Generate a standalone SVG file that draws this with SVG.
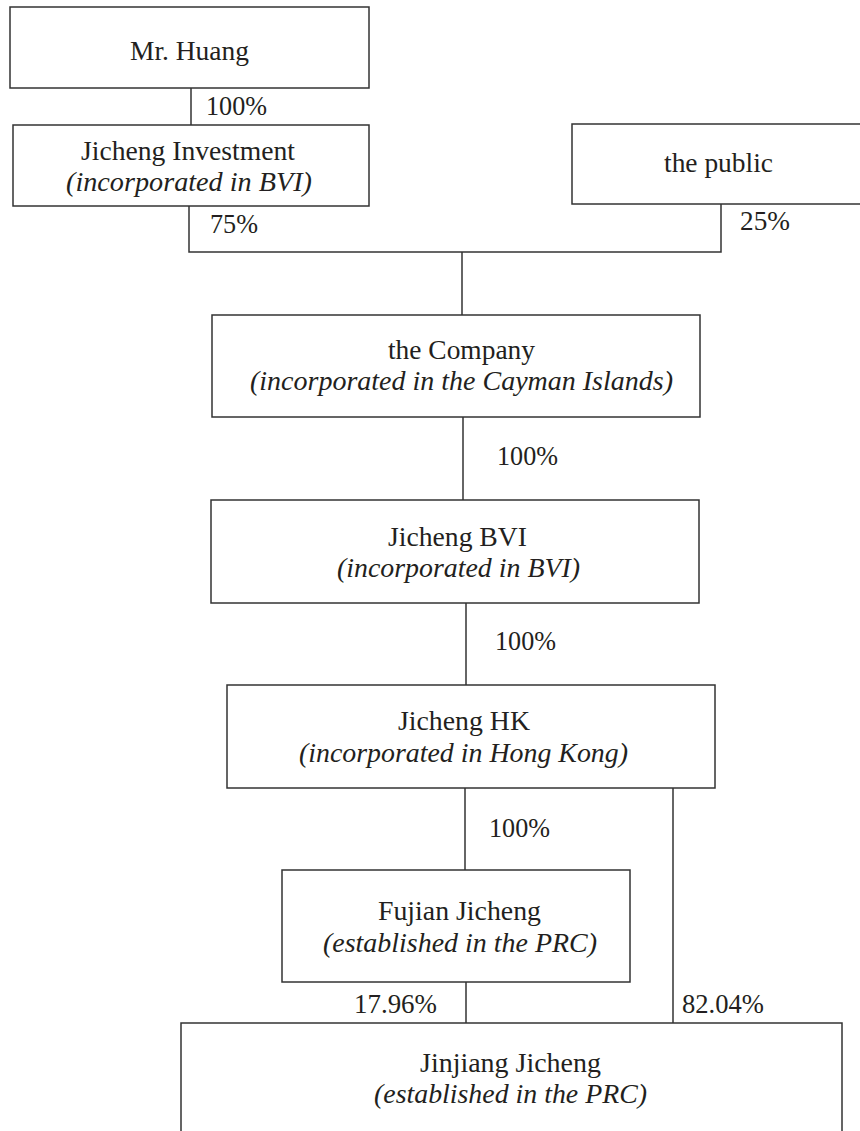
<svg xmlns="http://www.w3.org/2000/svg" width="860" height="1131" viewBox="0 0 860 1131">
<style>
.box{fill:#ffffff;stroke:#333333;stroke-width:1.5}
.ln{fill:none;stroke:#333333;stroke-width:1.5}
text{font-family:"Liberation Serif","Times New Roman",serif;font-size:27.5px;fill:#231f20}
.it{font-style:italic}
</style>
<rect width="860" height="1131" fill="#ffffff"/>
<g id="connectors">
<line class="ln" x1="191" y1="88" x2="191" y2="125"/>
<polyline class="ln" points="189,206 189,252 721,252 721,204"/>
<line class="ln" x1="462" y1="252" x2="462" y2="315"/>
<line class="ln" x1="463" y1="417" x2="463" y2="500"/>
<line class="ln" x1="466" y1="603" x2="466" y2="685"/>
<line class="ln" x1="465" y1="788" x2="465" y2="870"/>
<line class="ln" x1="673" y1="788" x2="673" y2="1023"/>
<line class="ln" x1="466" y1="982" x2="466" y2="1023"/>
<text x="206" y="115" textLength="61" lengthAdjust="spacingAndGlyphs">100%</text>
<text x="210" y="233" textLength="48" lengthAdjust="spacingAndGlyphs">75%</text>
<text x="740" y="230" textLength="50" lengthAdjust="spacingAndGlyphs">25%</text>
<text x="497" y="465" textLength="61" lengthAdjust="spacingAndGlyphs">100%</text>
<text x="495" y="650" textLength="61" lengthAdjust="spacingAndGlyphs">100%</text>
<text x="489" y="837" textLength="61" lengthAdjust="spacingAndGlyphs">100%</text>
<text x="354" y="1013" textLength="83" lengthAdjust="spacingAndGlyphs">17.96%</text>
<text x="682" y="1013" textLength="82" lengthAdjust="spacingAndGlyphs">82.04%</text>
</g>
<g id="mr-huang">
<rect class="box" x="10" y="7" width="359" height="81"/>
<text x="130" y="60" textLength="119" lengthAdjust="spacingAndGlyphs">Mr. Huang</text>
</g>
<g id="jicheng-investment">
<rect class="box" x="13" y="125" width="356" height="81"/>
<text x="81" y="160" textLength="214" lengthAdjust="spacingAndGlyphs">Jicheng Investment</text>
<text class="it" x="66" y="191" textLength="246" lengthAdjust="spacingAndGlyphs">(incorporated in BVI)</text>
</g>
<g id="the-public">
<rect class="box" x="572" y="124" width="300" height="80"/>
<text x="664" y="172" textLength="109" lengthAdjust="spacingAndGlyphs">the public</text>
</g>
<g id="the-company">
<rect class="box" x="212" y="315" width="488" height="102"/>
<text x="388" y="359" textLength="147" lengthAdjust="spacingAndGlyphs">the Company</text>
<text class="it" x="250" y="390" textLength="423" lengthAdjust="spacingAndGlyphs">(incorporated in the Cayman Islands)</text>
</g>
<g id="jicheng-bvi">
<rect class="box" x="211" y="500" width="488" height="103"/>
<text x="388" y="546" textLength="139" lengthAdjust="spacingAndGlyphs">Jicheng BVI</text>
<text class="it" x="337" y="577" textLength="243" lengthAdjust="spacingAndGlyphs">(incorporated in BVI)</text>
</g>
<g id="jicheng-hk">
<rect class="box" x="227" y="685" width="488" height="103"/>
<text x="398" y="730" textLength="132" lengthAdjust="spacingAndGlyphs">Jicheng HK</text>
<text class="it" x="299" y="762" textLength="329" lengthAdjust="spacingAndGlyphs">(incorporated in Hong Kong)</text>
</g>
<g id="fujian-jicheng">
<rect class="box" x="282" y="870" width="348" height="112"/>
<text x="378" y="920" textLength="163" lengthAdjust="spacingAndGlyphs">Fujian Jicheng</text>
<text class="it" x="323" y="952" textLength="274" lengthAdjust="spacingAndGlyphs">(established in the PRC)</text>
</g>
<g id="jinjiang-jicheng">
<rect class="box" x="181" y="1023" width="661" height="130"/>
<text x="420" y="1072" textLength="181" lengthAdjust="spacingAndGlyphs">Jinjiang Jicheng</text>
<text class="it" x="374" y="1103" textLength="273" lengthAdjust="spacingAndGlyphs">(established in the PRC)</text>
</g>
</svg>
